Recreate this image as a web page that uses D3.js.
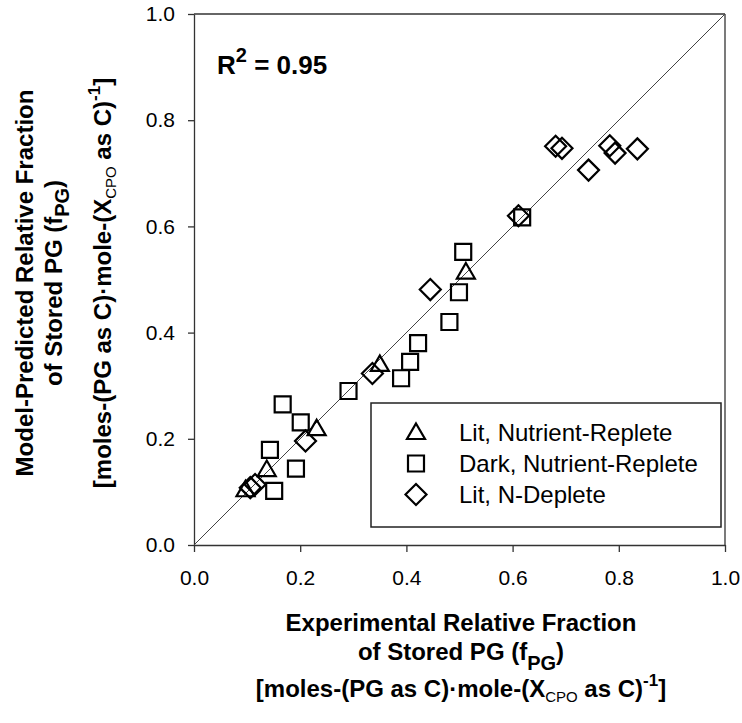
<!DOCTYPE html>
<html>
<head>
<meta charset="utf-8">
<script src="https://cdn.jsdelivr.net/npm/d3@7"></script>
<style>
  html, body { margin: 0; padding: 0; background: #fff; }
  svg { display: block; font-family: "Liberation Sans", Arial, sans-serif; }
</style>
</head>
<body>
<svg id="chart" width="742" height="723"></svg>
<script>
// ---------------- data ----------------
const seriesNames = ["Lit, Nutrient-Replete", "Dark, Nutrient-Replete", "Lit, N-Deplete"];
const seriesShapes = ["triangle", "square", "diamond"];

const litRepleteX = [0.097, 0.137, 0.231, 0.350, 0.512];
const litRepleteY = [0.105, 0.143, 0.220, 0.341, 0.515];

const darkRepleteX = [0.151, 0.143, 0.192, 0.167, 0.201, 0.291, 0.390, 0.407, 0.422, 0.481, 0.499, 0.507, 0.618];
const darkRepleteY = [0.102, 0.179, 0.144, 0.265, 0.231, 0.290, 0.314, 0.345, 0.380, 0.420, 0.476, 0.552, 0.617];

const litDepleteX = [0.106, 0.115, 0.210, 0.336, 0.445, 0.611, 0.681, 0.693, 0.743, 0.783, 0.793, 0.835];
const litDepleteY = [0.108, 0.114, 0.196, 0.323, 0.481, 0.620, 0.751, 0.747, 0.706, 0.752, 0.738, 0.746];

const identityLine = [0, 1];
const xTicks = [0, 0.2, 0.4, 0.6, 0.8, 1.0];
const yTicks = [0, 0.2, 0.4, 0.6, 0.8, 1.0];
const r2Value = "0.95";

// ---------------- layout ----------------
const svg = d3.select("#chart");
const plot = { left: 194, top: 14, width: 531, height: 531 };
const x = d3.scaleLinear().domain([0, 1]).range([plot.left, plot.left + plot.width]);
const y = d3.scaleLinear().domain([0, 1]).range([plot.top + plot.height, plot.top]);

const axisColor = "#333";

// frame (top & right)
svg.append("line").attr("x1", x(0)).attr("x2", x(1)).attr("y1", y(1)).attr("y2", y(1))
  .attr("stroke", axisColor).attr("stroke-width", 1.3);
svg.append("line").attr("x1", x(1)).attr("x2", x(1)).attr("y1", y(0)).attr("y2", y(1))
  .attr("stroke", axisColor).attr("stroke-width", 1.3);

// x axis
const gx = svg.append("g").attr("transform", `translate(0,${y(0)})`)
  .call(d3.axisBottom(x).tickValues(xTicks).tickFormat(d3.format(".1f")).tickSize(7).tickSizeOuter(0).tickPadding(18));
// y axis
const gy = svg.append("g").attr("transform", `translate(${x(0)},0)`)
  .call(d3.axisLeft(y).tickValues(yTicks).tickFormat(d3.format(".1f")).tickSize(6).tickSizeOuter(0).tickPadding(13));

[gx, gy].forEach(g => {
  g.select(".domain").attr("stroke", axisColor).attr("stroke-width", 1.3);
  g.selectAll(".tick line").attr("stroke", axisColor).attr("stroke-width", 1.3);
  g.selectAll(".tick text").attr("fill", "#000").attr("font-size", 21)
    .attr("font-family", "'Liberation Sans', Arial, sans-serif");
});

// identity line
svg.append("line")
  .attr("x1", x(identityLine[0])).attr("y1", y(identityLine[0]))
  .attr("x2", x(identityLine[1])).attr("y2", y(identityLine[1]))
  .attr("stroke", "#444").attr("stroke-width", 1);

// symbol path generators
function shapePath(shape) {
  if (shape === "triangle") return "M0,-8.5 L9,7 L-9,7 Z";
  if (shape === "square") return "M-8,-8 L8,-8 L8,8 L-8,8 Z";
  return "M0,-10.5 L10.5,0 L0,10.5 L-10.5,0 Z";
}

const seriesData = [
  d3.zip(litRepleteX, litRepleteY),
  d3.zip(darkRepleteX, darkRepleteY),
  d3.zip(litDepleteX, litDepleteY)
];

seriesData.forEach((pts, i) => {
  svg.append("g").selectAll("path").data(pts).join("path")
    .attr("d", shapePath(seriesShapes[i]))
    .attr("transform", d => `translate(${x(d[0])},${y(d[1])})`)
    .attr("fill", "none").attr("stroke", "#000").attr("stroke-width", 2.2)
    .attr("stroke-linejoin", "miter");
});

// R^2 annotation
const r2 = svg.append("text").attr("x", 217).attr("y", 74)
  .attr("font-size", 26).attr("font-weight", "bold").attr("fill", "#000");
r2.append("tspan").text("R");
r2.append("tspan").attr("font-size", 20).attr("dy", -12).text("2");
r2.append("tspan").attr("dy", 12).text(" = " + r2Value);

// legend
const legend = svg.append("g");
legend.append("rect").attr("x", 371).attr("y", 403).attr("width", 350).attr("height", 124)
  .attr("fill", "#fff").attr("stroke", "#222").attr("stroke-width", 1.5);
const legendRows = [432, 463.5, 494.5];
seriesNames.forEach((name, i) => {
  legend.append("path").attr("d", shapePath(seriesShapes[i]))
    .attr("transform", `translate(416,${legendRows[i]})`)
    .attr("fill", "none").attr("stroke", "#000").attr("stroke-width", 2.2);
  legend.append("text").attr("x", 459).attr("y", legendRows[i]).attr("dy", "0.36em")
    .attr("font-size", 24).attr("fill", "#000").text(name);
});

// x axis title
const xt = svg.append("g").attr("font-weight", "bold").attr("fill", "#000").attr("text-anchor", "middle");
xt.append("text").attr("x", 461).attr("y", 631).attr("font-size", 24).text("Experimental Relative Fraction");
const xt2 = xt.append("text").attr("x", 461).attr("y", 660).attr("font-size", 24);
xt2.append("tspan").text("of Stored PG (f");
xt2.append("tspan").attr("font-size", 20).attr("dy", 10).text("PG");
xt2.append("tspan").attr("dy", -10).text(")");
const xt3 = xt.append("text").attr("x", 461).attr("y", 697).attr("font-size", 24);
xt3.append("tspan").text("[moles-(PG as C)\u00B7mole-(X");
xt3.append("tspan").attr("font-size", 15).attr("dy", 5).attr("font-weight", "normal").text("CPO");
xt3.append("tspan").attr("dy", -5).text(" as C)");
xt3.append("tspan").attr("font-size", 17).attr("dy", -11).text("-1");
xt3.append("tspan").attr("dy", 11).text("]");

// y axis title (rotated)
const yt = svg.append("g").attr("font-weight", "bold").attr("fill", "#000").attr("text-anchor", "middle");
const cy = 283;
yt.append("text").attr("transform", `translate(33,${cy}) rotate(-90)`).attr("font-size", 24)
  .text("Model-Predicted Relative Fraction");
const yt2 = yt.append("text").attr("transform", `translate(62,${cy}) rotate(-90)`).attr("font-size", 24);
yt2.append("tspan").text("of Stored PG (f");
yt2.append("tspan").attr("font-size", 20).attr("dy", 7).text("PG");
yt2.append("tspan").attr("dy", -7).text(")");
const yt3 = yt.append("text").attr("transform", `translate(111,${cy}) rotate(-90)`).attr("font-size", 24);
yt3.append("tspan").text("[moles-(PG as C)\u00B7mole-(X");
yt3.append("tspan").attr("font-size", 15).attr("dy", 5).attr("font-weight", "normal").text("CPO");
yt3.append("tspan").attr("dy", -5).text(" as C)");
yt3.append("tspan").attr("font-size", 17).attr("dy", -11).text("-1");
yt3.append("tspan").attr("dy", 11).text("]");
</script>
</body>
</html>
